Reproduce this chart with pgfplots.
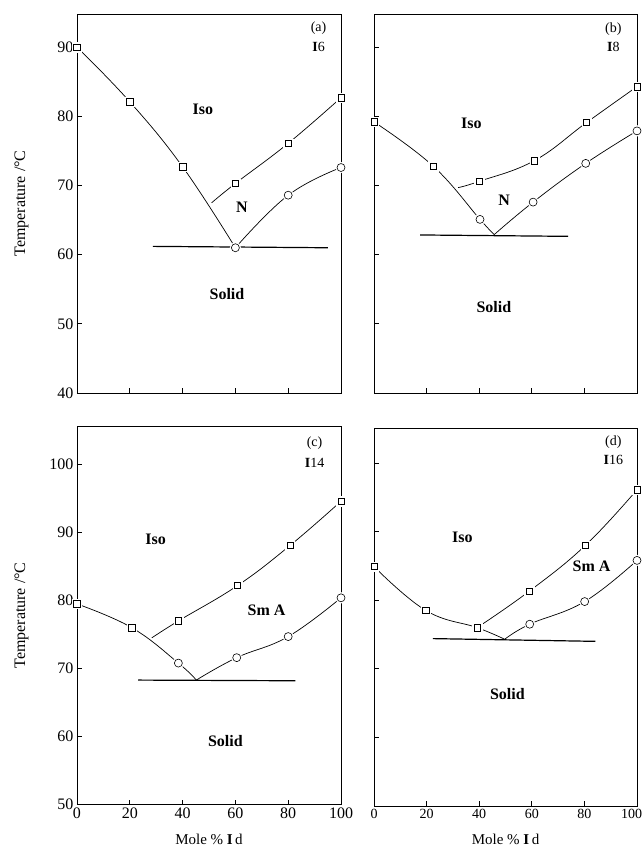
\documentclass[border=0pt]{standalone}
\usepackage{fontspec}
\setmainfont{Liberation Serif}
\usepackage{pgfplots}
\pgfplotsset{compat=1.18}
\pgfplotsset{
 pd/.style={scale only axis, anchor=south west, xmin=0, xmax=100,
   xtick={0,20,40,60,80,100}, tick pos=left, tick align=inside,
   major tick length=5pt, clip=false,
   axis line style={line width=0.8pt}, tick style={line width=0.8pt, black},
   ticklabel style={font=\fontsize{16}{18}\selectfont},
   /pgf/number format/assume math mode=true,
   xlabel style={font=\fontsize{15}{17}\selectfont, yshift=-8pt},
   every axis y label/.style={at={(axis description cs:-0.21,0.5)}, rotate=90, anchor=center, font=\fontsize{16}{18}\selectfont},
 },
 cur/.style={black, line width=0.7pt, smooth, tension=0.7, mark=none},
 eut/.style={black, line width=1.2pt, mark=none},
 sq/.style={only marks, mark=square*, mark size=3.2pt, mark options={draw=black, fill=white, line width=0.6pt}},
 ci/.style={only marks, mark=*, mark size=4pt, mark options={draw=black, fill=white, line width=0.6pt}},
 gsq/.style={only marks, mark=square*, mark size=4.6pt, mark options={draw=white, fill=white}},
 gci/.style={only marks, mark=*, mark size=5.4pt, mark options={draw=white, fill=white}},
}
\newcommand{\lab}[1]{\fontsize{16}{18}\selectfont\bfseries #1}
\newcommand{\pan}[1]{\fontsize{14}{16}\selectfont #1}
\begin{document}
\begin{tikzpicture}[x=1pt,y=1pt]
\useasboundingbox (0,0) rectangle (643,851);
% ---------- (a)
\begin{axis}[pd, at={(77pt,458pt)}, width=264pt, height=379pt,
  ymin=40, ymax=94.8, ytick={40,50,60,70,80,90}, xticklabels={},
  ylabel={Temperature /°C}]
\addplot[cur] coordinates {(0,90) (20,82.1) (40,72.7) (60,61.0)};
\addplot[cur] coordinates {(51,67.5) (60,70.3) (80,76.1) (100,82.7)};
\addplot[cur] coordinates {(60,61.0) (80,68.6) (100,72.6)};
\addplot[gsq] coordinates {(0,90) (20,82.1) (40,72.7) (60,70.3) (80,76.1) (100,82.7)};
\addplot[gci] coordinates {(60,61.0) (80,68.6) (100,72.6)};
\addplot[eut] coordinates {(28.7,61.2) (95,61.0)};
\addplot[sq] coordinates {(0,90) (20,82.1) (40,72.7) (60,70.3) (80,76.1) (100,82.7)};
\addplot[ci] coordinates {(60,61.0) (80,68.6) (100,72.6)};
\node at (axis cs:47.7,81) {\lab{Iso}};
\node at (axis cs:62.5,66.8) {\lab{N}};
\node at (axis cs:56.8,54.3) {\lab{Solid}};
\node at (axis cs:91.5,92.7) {\pan{(a)}};
\node at (axis cs:91.5,90) {\pan{\textbf{I}6}};
\end{axis}
% ---------- (b)
\begin{axis}[pd, at={(374pt,458pt)}, width=263pt, height=379pt,
  ymin=40, ymax=94.8, ytick={40,50,60,70,80,90}, xticklabels={}, yticklabels={}]
\addplot[cur] coordinates {(0,79.2) (22.5,72.8) (40.3,65.1) (45.7,62.9)};
\addplot[cur] coordinates {(32,69.7) (40,70.6) (61,73.6) (80.8,79.1) (100,84.3)};
\addplot[cur] coordinates {(45.7,62.9) (60.5,67.6) (80.5,73.2) (100,77.9)};
\addplot[gsq] coordinates {(0,79.2) (22.5,72.8) (40,70.6) (61,73.6) (80.8,79.1) (100,84.3)};
\addplot[gci] coordinates {(40.3,65.1) (60.5,67.6) (80.5,73.2) (100,77.9)};
\addplot[eut] coordinates {(17.5,62.85) (73.8,62.65)};
\addplot[sq] coordinates {(0,79.2) (22.5,72.8) (40,70.6) (61,73.6) (80.8,79.1) (100,84.3)};
\addplot[ci] coordinates {(40.3,65.1) (60.5,67.6) (80.5,73.2) (100,77.9)};
\node at (axis cs:37,79) {\lab{Iso}};
\node at (axis cs:49.5,67.9) {\lab{N}};
\node at (axis cs:45.6,52.5) {\lab{Solid}};
\node at (axis cs:91,92.6) {\pan{(b)}};
\node at (axis cs:91,90) {\pan{\textbf{I}8}};
\end{axis}
% ---------- (c)
\begin{axis}[pd, at={(77pt,46.5pt)}, width=264pt, height=378pt,
  ymin=50, ymax=105.6, ytick={50,60,70,80,90,100},
  ylabel={Temperature /°C}, xlabel={Mole \% \textbf{I}\,d}]
\addplot[cur] coordinates {(0,79.5) (20.8,76.0) (38.4,70.8) (45.2,68.3)};
\addplot[cur] coordinates {(28.3,74.5) (38.4,77.0) (60.8,82.2) (80.7,88.1) (100,94.6)};
\addplot[cur] coordinates {(45.2,68.3) (60.5,71.6) (80,74.7) (100,80.4)};
\addplot[gsq] coordinates {(0,79.5) (20.8,76.0) (38.4,77.0) (60.8,82.2) (80.7,88.1) (100,94.6)};
\addplot[gci] coordinates {(38.4,70.8) (60.5,71.6) (80,74.7) (100,80.4)};
\addplot[eut] coordinates {(23.2,68.3) (82.7,68.2)};
\addplot[sq] coordinates {(0,79.5) (20.8,76.0) (38.4,77.0) (60.8,82.2) (80.7,88.1) (100,94.6)};
\addplot[ci] coordinates {(38.4,70.8) (60.5,71.6) (80,74.7) (100,80.4)};
\node at (axis cs:29.8,89) {\lab{Iso}};
\node at (axis cs:71.8,78.5) {\lab{Sm A}};
\node at (axis cs:56.2,59.3) {\lab{Solid}};
\node at (axis cs:90,103.2) {\pan{(c)}};
\node at (axis cs:90,100.3) {\pan{\textbf{I}14}};
\end{axis}
% ---------- (d)
\begin{axis}[pd, at={(374pt,45pt)}, width=263pt, height=378pt,
  ymin=50, ymax=105.1, ytick={50,60,70,80,90,100}, yticklabels={},
  xticklabels={0,20,40,60,80,{100\hspace*{11pt}}},
  xticklabel style={font=\fontsize{14}{16}\selectfont},
  xlabel={Mole \% \textbf{I}\,d}]
\addplot[cur] coordinates {(0,84.9) (19.7,78.5) (39.2,76.0) (49.7,74.3)};
\addplot[cur] coordinates {(39.2,76.0) (59,81.3) (80.4,88.0) (100,96.1)};
\addplot[cur] coordinates {(49.7,74.3) (59.2,76.5) (80.1,79.8) (100,85.8)};
\addplot[gsq] coordinates {(0,84.9) (19.7,78.5) (39.2,76.0) (59,81.3) (80.4,88.0) (100,96.1)};
\addplot[gci] coordinates {(59.2,76.5) (80.1,79.8) (100,85.8)};
\addplot[eut] coordinates {(22.4,74.4) (84.2,74.0)};
\addplot[sq] coordinates {(0,84.9) (19.7,78.5) (39.2,76.0) (59,81.3) (80.4,88.0) (100,96.1)};
\addplot[ci] coordinates {(59.2,76.5) (80.1,79.8) (100,85.8)};
\node at (axis cs:33.6,89.1) {\lab{Iso}};
\node at (axis cs:82.7,84.9) {\lab{Sm A}};
\node at (axis cs:50.7,66.3) {\lab{Solid}};
\node at (axis cs:91,103.1) {\pan{(d)}};
\node at (axis cs:91,100.4) {\pan{\textbf{I}16}};
\end{axis}
\end{tikzpicture}
\end{document}
